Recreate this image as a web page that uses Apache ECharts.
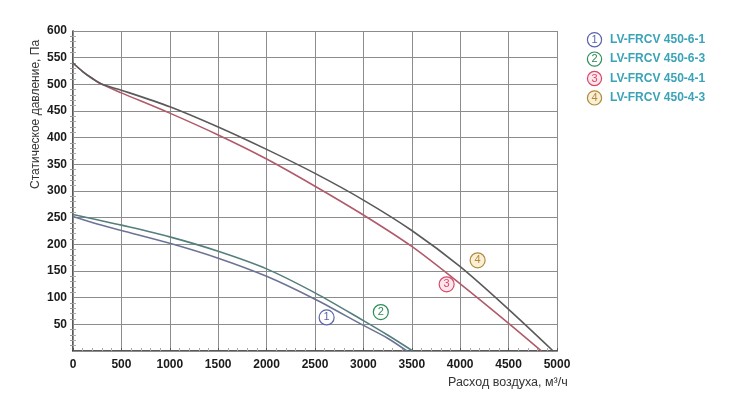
<!DOCTYPE html>
<html>
<head>
<meta charset="utf-8">
<script src="https://cdn.jsdelivr.net/npm/echarts@6/dist/echarts.min.js"></script>
<style>html,body{margin:0;padding:0;background:#fff}#c{width:754px;height:400px}</style>
</head>
<body>
<div id="c"></div>
<script>
// ---- data ----
const seriesNames = ['LV-FRCV 450-6-1', 'LV-FRCV 450-6-3', 'LV-FRCV 450-4-1', 'LV-FRCV 450-4-3'];
const flow1 = [0, 250, 500, 1000, 1500, 2000, 2500, 3000, 3250, 3450];
const pres1 = [252, 238, 226, 202, 174, 140, 97, 48, 24, 0];
const flow2 = [0, 250, 500, 1000, 1500, 2000, 2500, 3000, 3250, 3510];
const pres2 = [256, 246, 236, 214, 187, 154, 109, 57, 30, 0];
const flow3 = [0, 100, 200, 300, 500, 1000, 1500, 2000, 2500, 3000, 3500, 4000, 4500, 4840];
const pres3 = [540, 524, 511, 500, 484, 446, 405, 360, 309, 255, 196, 126, 52, 0];
const flow4 = [0, 100, 200, 300, 500, 1000, 1500, 2000, 2500, 3000, 3500, 4000, 4500, 4960];
const pres4 = [540, 524, 511, 500, 489, 458, 420, 378, 333, 283, 226, 158, 78, 0];
const xTicks = [0, 500, 1000, 1500, 2000, 2500, 3000, 3500, 4000, 4500, 5000];
const yTicks = [50, 100, 150, 200, 250, 300, 350, 400, 450, 500, 550, 600];
const curveLabels = ['1', '2', '3', '4'];
const labelFlow = [2620, 3180, 3860, 4180];
const labelPres = [63, 73, 125, 170];

const lineColors = ['#6c7496', '#557f7c', '#b05a6a', '#5a5a5a'];
const badgeColors = ['#5a64a8', '#2e8b57', '#d9486a', '#b08a3e'];
const badgeFills = ['#ffffff', '#ffffff', '#fde6ec', '#fbf0d6'];
const font = '"Liberation Sans", Arial, sans-serif';

const flows = [flow1, flow2, flow3, flow4];
const press = [pres1, pres2, pres3, pres4];

const chart = echarts.init(document.getElementById('c'));

const series = seriesNames.map((name, i) => ({
  name: name,
  type: 'line',
  smooth: 0.3,
  symbol: 'none',
  xAxisIndex: 0,
  yAxisIndex: 0,
  lineStyle: { color: lineColors[i], width: 1.6 },
  itemStyle: { color: lineColors[i] },
  data: flows[i].map((f, k) => [f, press[i][k]]),
  markPoint: {
    symbol: 'circle',
    symbolSize: 15,
    silent: true,
    itemStyle: { color: badgeFills[i], borderColor: badgeColors[i], borderWidth: 1.2 },
    label: { show: true, formatter: curveLabels[i], color: badgeColors[i], fontSize: 11, fontFamily: font },
    data: [{ coord: [labelFlow[i], labelPres[i]] }]
  }
}));

const rich = { t: { color: '#3aa3b8', fontSize: 12, fontWeight: 'bold', fontFamily: font, padding: [0, 0, 0, 9] } };
badgeColors.forEach((c, i) => {
  rich['c' + i] = { width: 13, height: 13, borderRadius: 7, borderColor: c, borderWidth: 1.2,
    backgroundColor: badgeFills[i], color: c, fontSize: 11, align: 'center', fontFamily: font, lineHeight: 14 };
});

chart.setOption({
  animation: false,
  backgroundColor: '#ffffff',
  textStyle: { fontFamily: font },
  grid: { left: 73, right: 197, top: 31, bottom: 49, containLabel: false },
  legend: {
    orient: 'vertical',
    left: 578,
    top: 27,
    itemGap: 4,
    icon: 'none',
    itemWidth: 0,
    itemHeight: 14,
    selectedMode: false,
    data: seriesNames,
    formatter: function (name) {
      const i = seriesNames.indexOf(name);
      return '{c' + i + '|' + curveLabels[i] + '}{t|' + name + '}';
    },
    textStyle: { rich: rich }
  },
  xAxis: [{
    type: 'value', min: 0, max: 5000, interval: 500, position: 'bottom',
    axisLine: { show: true, lineStyle: { color: '#222', width: 1.5 } },
    axisTick: { show: true, inside: true, length: 3, lineStyle: { color: '#555' } },
    minorTick: { show: true, splitNumber: 5, length: 3, lineStyle: { color: '#999' } },
    splitLine: { show: true, lineStyle: { color: '#8c8c8c', width: 1 } },
    axisLabel: { color: '#1a1a1a', fontSize: 12, fontWeight: 'bold', fontFamily: font, margin: 8,
      formatter: v => xTicks.indexOf(v) >= 0 ? String(v) : '' }
  }, {
    type: 'value', min: 0, max: 5000, interval: 500, position: 'top',
    axisLine: { show: true, lineStyle: { color: '#8c8c8c', width: 1 } },
    axisTick: { show: false },
    minorTick: { show: true, splitNumber: 5, length: 3, lineStyle: { color: '#aaa' } },
    splitLine: { show: false },
    axisLabel: { show: false }
  }],
  yAxis: [{
    type: 'value', min: 0, max: 600, interval: 50, position: 'left',
    axisLine: { show: true, lineStyle: { color: '#222', width: 1.5 } },
    axisTick: { show: false },
    minorTick: { show: true, splitNumber: 5, length: 3, lineStyle: { color: '#999' } },
    splitLine: { show: true, lineStyle: { color: '#8c8c8c', width: 1 } },
    axisLabel: { color: '#1a1a1a', fontSize: 12, fontWeight: 'bold', fontFamily: font, margin: 6,
      formatter: v => yTicks.indexOf(v) >= 0 ? String(v) : '' }
  }, {
    type: 'value', min: 0, max: 600, interval: 50, position: 'right',
    axisLine: { show: true, lineStyle: { color: '#8c8c8c', width: 1 } },
    axisTick: { show: false },
    minorTick: { show: true, splitNumber: 5, length: 3, lineStyle: { color: '#aaa' } },
    splitLine: { show: false },
    axisLabel: { show: false }
  }],
  graphic: [{
    type: 'text',
    left: 448, top: 376,
    style: { text: 'Расход воздуха, м³/ч', fill: '#333', fontSize: 12.5, fontFamily: font },
    silent: true
  }, {
    type: 'text',
    x: 30, y: 189,
    rotation: Math.PI / 2,
    style: { text: 'Статическое давление, Па', fill: '#333', fontSize: 12, fontFamily: font },
    silent: true
  }],
  series: series
});
</script>
</body>
</html>
